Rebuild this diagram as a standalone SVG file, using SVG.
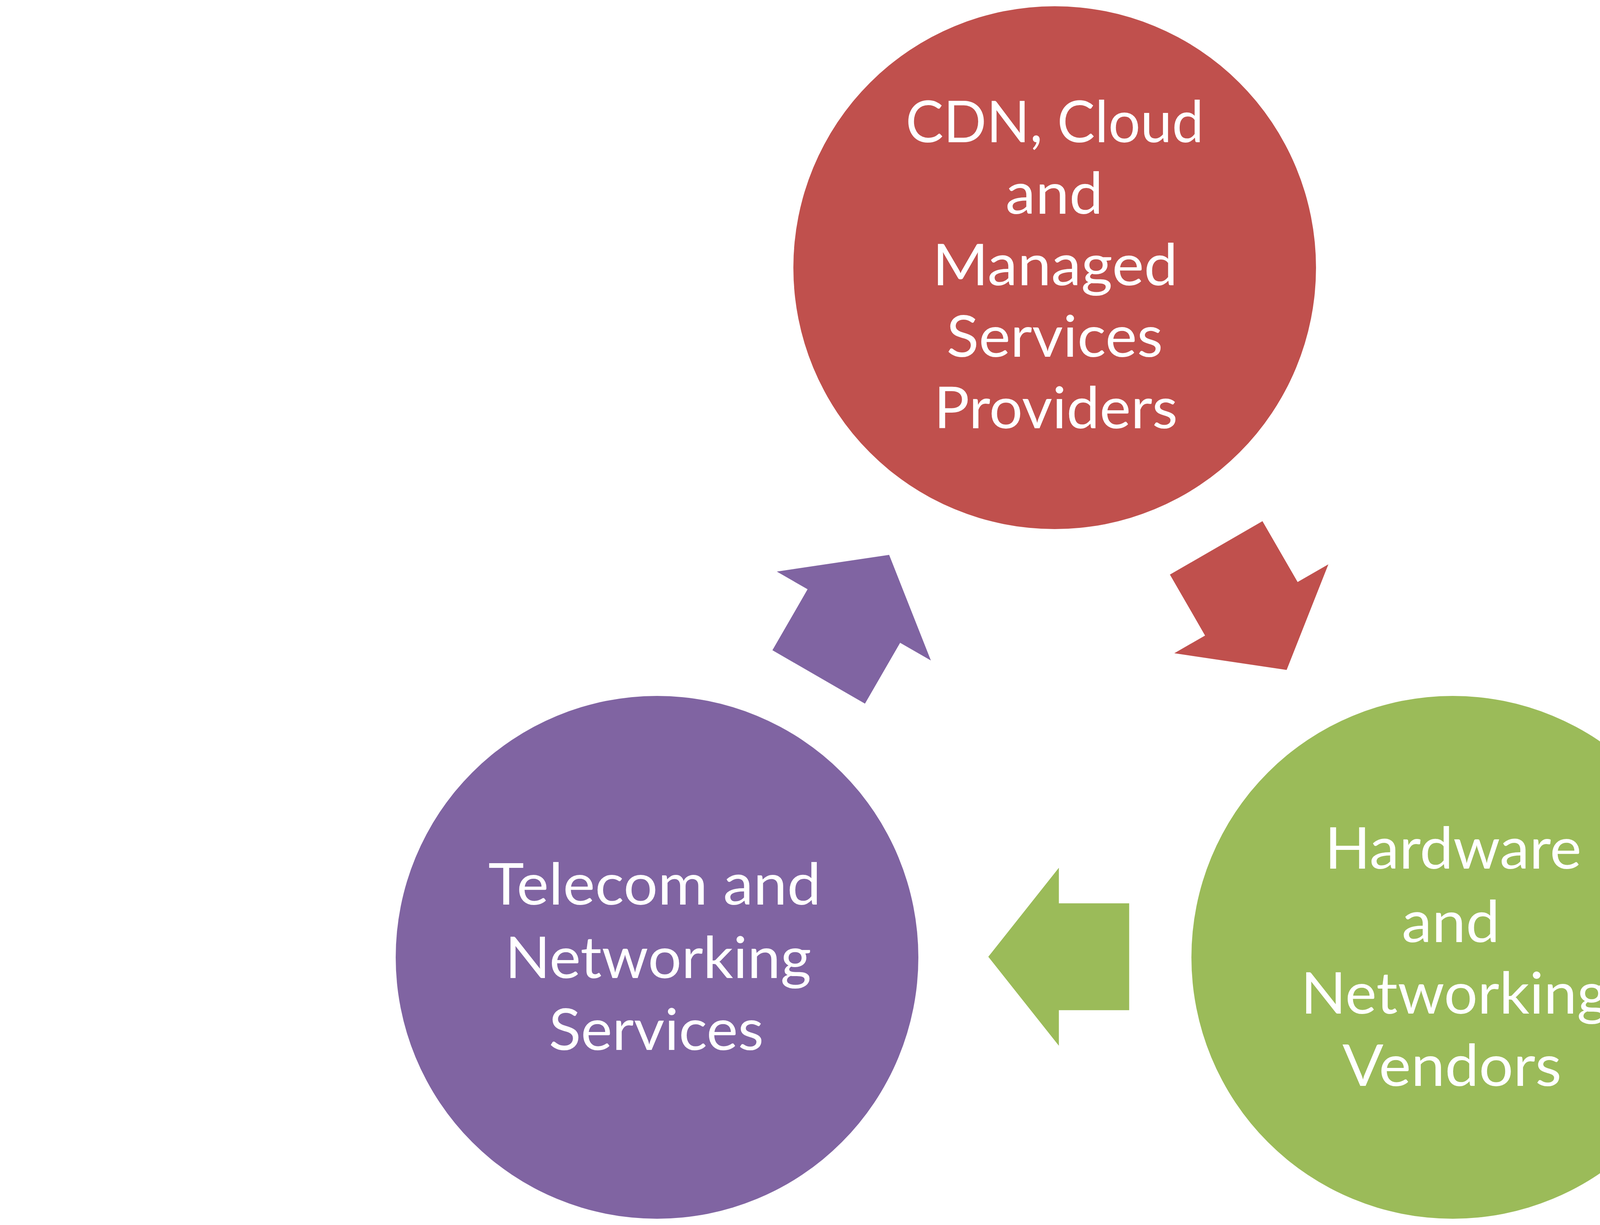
<svg xmlns="http://www.w3.org/2000/svg" xmlns:xlink="http://www.w3.org/1999/xlink" width="5400" height="3135" viewBox="0 0 5400 3135">
<style>
.lbl{font-family:Lato,Carlito,"Liberation Sans",sans-serif;font-size:147px;fill:#FFFFFF;text-anchor:middle}
.red{fill:#C0504D}
.green{fill:#9BBB59}
.purple{fill:#8064A2}
</style>
<defs>
<path id="arr" d="M2530,2448.5 L2710.7,2220.8 L2710.7,2311.7 L2890.7,2311.7 L2890.7,2585.3 L2710.7,2585.3 L2710.7,2676.2 Z"/>
</defs>
<rect x="0" y="0" width="5400" height="3135" fill="#FFFFFF"/>
<g id="connectors">
<use id="arrow-top-right" href="#arr" xlink:href="#arr" class="red" transform="rotate(240 2700 1861)"/>
<use id="arrow-right-left" href="#arr" xlink:href="#arr" class="green"/>
<use id="arrow-left-top" href="#arr" xlink:href="#arr" class="purple" transform="rotate(120 2700 1861)"/>
</g>
<g id="node-cdn">
<circle cx="2700" cy="685" r="669" class="red"/>
<text class="lbl" x="2700" y="364" textLength="763" lengthAdjust="spacingAndGlyphs">CDN, Cloud</text>
<text class="lbl" x="2699" y="547" textLength="250" lengthAdjust="spacingAndGlyphs">and</text>
<text class="lbl" x="2701" y="730" textLength="628" lengthAdjust="spacingAndGlyphs">Managed</text>
<text class="lbl" x="2700" y="913" textLength="554" lengthAdjust="spacingAndGlyphs">Services</text>
<text class="lbl" x="2703" y="1096" textLength="624" lengthAdjust="spacingAndGlyphs">Providers</text>
</g>
<g id="node-telecom">
<circle cx="1682" cy="2450" r="669" class="purple"/>
<text class="lbl" x="1676" y="2315" textLength="852" lengthAdjust="spacingAndGlyphs">Telecom and</text>
<text class="lbl" x="1685" y="2503" textLength="784" lengthAdjust="spacingAndGlyphs">Networking</text>
<text class="lbl" x="1680" y="2687" textLength="550" lengthAdjust="spacingAndGlyphs">Services</text>
</g>
<g id="node-hardware">
<circle cx="3719" cy="2450" r="669" class="green"/>
<text class="lbl" x="3720" y="2223" textLength="657" lengthAdjust="spacingAndGlyphs">Hardware</text>
<text class="lbl" x="3714" y="2411" textLength="251" lengthAdjust="spacingAndGlyphs">and</text>
<text class="lbl" x="3723" y="2594" textLength="786" lengthAdjust="spacingAndGlyphs">Networking</text>
<text class="lbl" x="3717" y="2779" textLength="561" lengthAdjust="spacingAndGlyphs">Vendors</text>
</g>
</svg>
